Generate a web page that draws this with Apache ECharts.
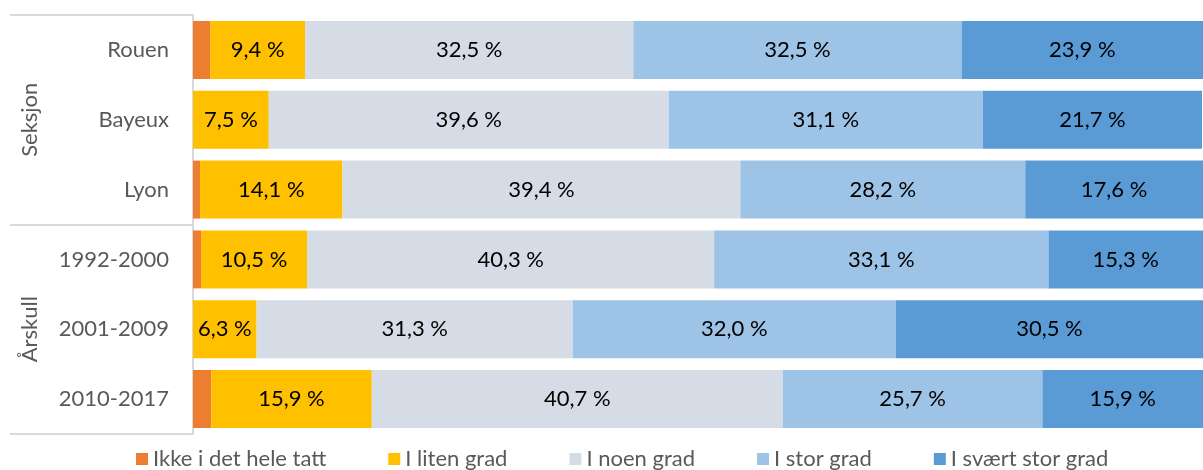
<!DOCTYPE html>
<html>
<head>
<meta charset="utf-8">
<script src="https://cdn.jsdelivr.net/npm/echarts@6/dist/echarts.min.js"></script>
<style>
  html, body { margin: 0; padding: 0; background: #fff; }
  #main { width: 1203px; height: 470px; }
</style>
</head>
<body>
<div id="main"></div>
<script>
// kategorier og grupper
var categories = ['Rouen', 'Bayeux', 'Lyon', '1992-2000', '2001-2009', '2010-2017'];
var groups = ['Seksjon', 'Årskull'];
var seriesNames = ['Ikke i det hele tatt', 'I liten grad', 'I noen grad', 'I stor grad', 'I svært stor grad'];

// prosentandeler per svaralternativ
var ikke = [1.7, 0.0, 0.7, 0.8, 0.0, 1.8];
var liten = [9.4, 7.5, 14.1, 10.5, 6.3, 15.9];
var noen = [32.5, 39.6, 39.4, 40.3, 31.3, 40.7];
var stor = [32.5, 31.1, 28.2, 33.1, 32.0, 25.7];
var svaertStor = [23.9, 21.7, 17.6, 15.3, 30.5, 15.9];

var colors = ['#ED7D31', '#FFC000', '#D6DCE5', '#9DC3E6', '#5B9BD5'];
var font = 'Lato, "Open Sans", sans-serif';

var chart = echarts.init(document.getElementById('main'));

function pct(p) {
  return p.value.toFixed(1).replace('.', ',') + ' %';
}

function makeSeries(name, data, showLabel) {
  return {
    name: name,
    type: 'bar',
    stack: 'total',
    barCategoryGap: '17%',
    data: data,
    label: {
      show: showLabel,
      position: 'inside',
      formatter: pct,
      color: '#000',
      fontFamily: font,
      fontSize: 22
    }
  };
}

var option = {
  color: colors,
  animation: false,
  textStyle: { fontFamily: font },
  grid: { left: 193, right: 0, top: 15, bottom: 36, containLabel: false },
  legend: {
    top: 443,
    left: 131,
    itemWidth: 12,
    itemHeight: 12,
    itemGap: 62,
    icon: 'rect',
    data: seriesNames,
    textStyle: { color: '#595959', fontSize: 22, fontFamily: font }
  },
  xAxis: {
    type: 'value',
    min: 0,
    max: 100,
    show: false
  },
  yAxis: [
    {
      type: 'category',
      inverse: true,
      data: categories,
      position: 'left',
      axisLine: { show: true, lineStyle: { color: '#d9d9d9', width: 2 } },
      axisTick: { show: false },
      axisLabel: { color: '#595959', fontSize: 22, fontFamily: font, margin: 24 }
    },
    {
      type: 'category',
      inverse: true,
      data: groups,
      position: 'left',
      offset: 0,
      axisLine: { show: false },
      axisTick: { show: true, length: 183, lineStyle: { color: '#d9d9d9', width: 2 } },
      axisLabel: { color: '#595959', fontSize: 22, fontFamily: font, rotate: 90, margin: 152 }
    }
  ],
  series: [
    makeSeries(seriesNames[0], ikke, false),
    makeSeries(seriesNames[1], liten, true),
    makeSeries(seriesNames[2], noen, true),
    makeSeries(seriesNames[3], stor, true),
    makeSeries(seriesNames[4], svaertStor, true)
  ]
};

chart.setOption(option);
</script>
</body>
</html>
